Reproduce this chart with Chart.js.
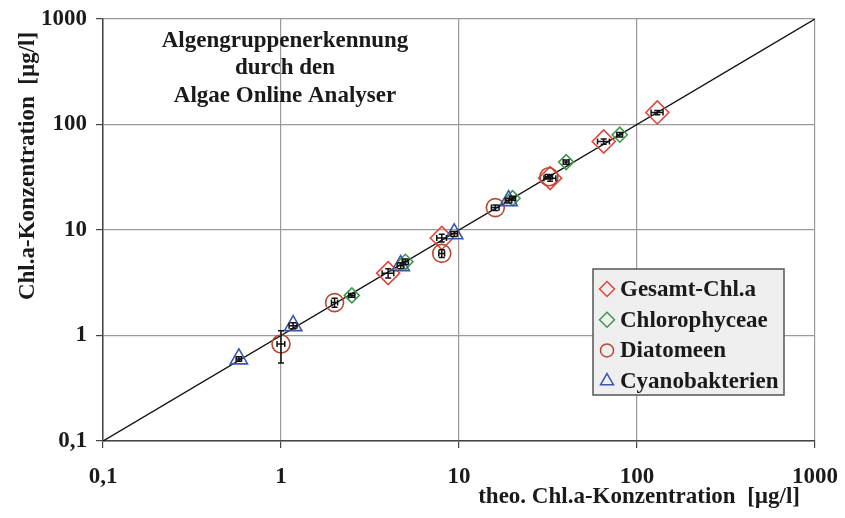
<!DOCTYPE html>
<html>
<head>
<meta charset="utf-8">
<script src="https://cdn.jsdelivr.net/npm/chart.js@4.4.1/dist/chart.umd.min.js"></script>
<style>
  html, body { margin: 0; padding: 0; background: #fff; }
  #wrap { width: 845px; height: 518px; }
</style>
</head>
<body>
<div id="wrap"><canvas id="algenChart" width="845" height="518"></canvas></div>
<script>
// axis decades and how they are labelled (German decimal comma)
var tickValues = [0.1, 1, 10, 100, 1000];
var tickLabels = ['0,1', '1', '10', '100', '1000'];

// series: theo. concentration (x) vs measured (y), error in x and y
var gesamtX = [4, 8, 32.5, 65, 130];
var gesamtY = [3.9, 8.4, 31, 69, 130];
var gesamtXErr = [0.3, 0.5, 2.5, 5, 10];
var gesamtYErr = [0.4, 0.7, 2, 4, 6];

var chloroX = [2.5, 5, 20, 40, 80];
var chloroY = [2.4, 5, 20, 44, 80];
var chloroXErr = [0.1, 0.2, 0.8, 1.5, 3];
var chloroYErr = [0.1, 0.3, 0.9, 2, 4];

var diatomX = [1, 2, 8, 16, 32];
var diatomY = [0.83, 2.05, 6, 16.3, 32];
var diatomXErr = [0.05, 0.08, 0.3, 0.8, 1.5];
var diatomYErr = [0.28, 0.2, 0.5, 1, 1.5];

var cyanoX = [0.58, 1.17, 4.7, 9.4, 19];
var cyanoY = [0.6, 1.24, 4.6, 9.2, 19];
var cyanoXErr = [0.02, 0.06, 0.2, 0.4, 0.8];
var cyanoYErr = [0.03, 0.08, 0.3, 0.5, 1];

var seriesNames = ['Gesamt-Chl.a', 'Chlorophyceae', 'Diatomeen', 'Cyanobakterien'];
var seriesColors = ['#e0463c', '#3d9a4a', '#b84a33', '#3b57a8'];
var seriesStyles = ['rectRot', 'rectRot', 'circle', 'triangle'];
var seriesRadius = [11.5, 7.5, 9, 10];

var titleLines = ['Algengruppenerkennung', 'durch den', 'Algae Online Analyser'];
var xTitle = 'theo. Chl.a-Konzentration  [\u00b5g/l]';
var yTitle = 'Chl.a-Konzentration  [\u00b5g/l]';

var serifFamily = '"Liberation Serif", "Times New Roman", serif';
var serifBold = 'bold 23px ' + serifFamily;

function toPoints(xs, ys) {
    var pts = [];
    for (var i = 0; i < xs.length; i++) pts.push({ x: xs[i], y: ys[i] });
    return pts;
}

var errs = [
    [gesamtXErr, gesamtYErr],
    [chloroXErr, chloroYErr],
    [diatomXErr, diatomYErr],
    [cyanoXErr, cyanoYErr]
];

var datasets = [];
var xsAll = [gesamtX, chloroX, diatomX, cyanoX];
var ysAll = [gesamtY, chloroY, diatomY, cyanoY];
for (var s = 0; s < 4; s++) {
    datasets.push({
        type: 'scatter',
        label: seriesNames[s],
        data: toPoints(xsAll[s], ysAll[s]),
        pointStyle: seriesStyles[s],
        pointRadius: seriesRadius[s],
        pointHoverRadius: seriesRadius[s],
        pointBorderWidth: 1.6,
        borderColor: seriesColors[s],
        backgroundColor: 'rgba(0,0,0,0)',
        order: 4 - s,
        errIndex: s
    });
}
// 1:1 line
datasets.push({
    type: 'line',
    label: '1:1',
    data: toPoints([tickValues[0], tickValues[4]], [tickValues[0], tickValues[4]]),
    borderColor: '#111',
    borderWidth: 1.4,
    pointRadius: 0,
    fill: false,
    order: 10
});

// black error bars drawn through the scales
var errorBars = {
    id: 'errorBars',
    afterDatasetsDraw: function(chart) {
        var ctx = chart.ctx, xs = chart.scales.x, ys = chart.scales.y;
        ctx.save();
        ctx.strokeStyle = '#111';
        ctx.lineWidth = 1.5;
        chart.data.datasets.forEach(function(ds) {
            if (ds.errIndex === undefined) return;
            var ex = errs[ds.errIndex][0], ey = errs[ds.errIndex][1];
            ds.data.forEach(function(p, i) {
                var px = xs.getPixelForValue(p.x), py = ys.getPixelForValue(p.y);
                var x0 = xs.getPixelForValue(p.x - ex[i]), x1 = xs.getPixelForValue(p.x + ex[i]);
                var y0 = ys.getPixelForValue(p.y - ey[i]), y1 = ys.getPixelForValue(p.y + ey[i]);
                ctx.beginPath();
                ctx.moveTo(x0, py); ctx.lineTo(x1, py);
                ctx.moveTo(x0, py - 3); ctx.lineTo(x0, py + 3);
                ctx.moveTo(x1, py - 3); ctx.lineTo(x1, py + 3);
                ctx.moveTo(px, y0); ctx.lineTo(px, y1);
                ctx.moveTo(px - 3, y0); ctx.lineTo(px + 3, y0);
                ctx.moveTo(px - 3, y1); ctx.lineTo(px + 3, y1);
                ctx.stroke();
            });
        });
        ctx.restore();
    }
};

function legendMarker(ctx, style, x, y, r, color) {
    ctx.beginPath();
    if (style === 'circle') {
        ctx.arc(x, y, r, 0, Math.PI * 2);
    } else if (style === 'triangle') {
        ctx.moveTo(x, y - r);
        ctx.lineTo(x + r * 0.866, y + r * 0.5);
        ctx.lineTo(x - r * 0.866, y + r * 0.5);
        ctx.closePath();
    } else {
        ctx.moveTo(x, y - r); ctx.lineTo(x + r, y); ctx.lineTo(x, y + r); ctx.lineTo(x - r, y);
        ctx.closePath();
    }
    ctx.strokeStyle = color;
    ctx.lineWidth = 1.5;
    ctx.stroke();
}

// heading text, axis titles and the boxed legend
var decorations = {
    id: 'decorations',
    afterDraw: function(chart) {
        var ctx = chart.ctx;
        ctx.save();
        ctx.fillStyle = '#1a1a1a';
        ctx.font = serifBold;
        ctx.textAlign = 'center';
        ctx.textBaseline = 'middle';
        titleLines.forEach(function(t, i) {
            ctx.fillText(t, 285, 41 + i * 27.5);
        });

        ctx.textAlign = 'right';
        ctx.fillText(xTitle, 800, 497);

        ctx.save();
        ctx.translate(28, 166);
        ctx.rotate(-Math.PI / 2);
        ctx.textAlign = 'center';
        ctx.fillText(yTitle, 0, 0);
        ctx.restore();

        // legend box
        var bx = 593, by = 269, bw = 191, bh = 126;
        ctx.fillStyle = '#efeff0';
        ctx.fillRect(bx, by, bw, bh);
        ctx.strokeStyle = '#555';
        ctx.lineWidth = 1.5;
        ctx.strokeRect(bx, by, bw, bh);
        ctx.textAlign = 'left';
        for (var i = 0; i < seriesNames.length; i++) {
            var ly = 289 + i * 30.7;
            legendMarker(ctx, seriesStyles[i], 607, ly, seriesStyles[i] === 'circle' ? 6.5 : 7.5, seriesColors[i]);
            ctx.fillStyle = '#1a1a1a';
            ctx.fillText(seriesNames[i], 620, ly + 1);
        }
        ctx.restore();
    }
};

function decadeTicks(scale) {
    scale.ticks = tickValues.map(function(v) { return { value: v }; });
}

var tickFont = { family: serifFamily, size: 23, weight: 'bold' };

var myChart = new Chart(document.getElementById('algenChart'), {
    data: { datasets: datasets },
    options: {
        responsive: false,
        animation: false,
        devicePixelRatio: 1,
        layout: { padding: { top: 19, right: 30, left: 0, bottom: 0 } },
        plugins: {
            legend: { display: false },
            title: { display: false },
            tooltip: { enabled: false }
        },
        scales: {
            x: {
                type: 'logarithmic',
                min: 0.1,
                max: 1000,
                afterBuildTicks: decadeTicks,
                afterFit: function(scale) {
                    scale.height = 77;
                    scale.paddingLeft = 0;
                    scale.paddingRight = 0;
                },
                border: { color: '#444', width: 1.5 },
                grid: { color: '#9a9a9a', lineWidth: 1.2, tickColor: '#444', tickLength: 7 },
                ticks: {
                    autoSkip: false,
                    maxRotation: 0,
                    padding: 15,
                    color: '#1a1a1a',
                    font: tickFont,
                    callback: function(v) { return tickLabels[tickValues.indexOf(v)]; }
                }
            },
            y: {
                type: 'logarithmic',
                min: 0.1,
                max: 1000,
                afterBuildTicks: decadeTicks,
                afterFit: function(scale) {
                    scale.width = 103;
                    scale.paddingTop = 0;
                    scale.paddingBottom = 0;
                },
                border: { color: '#444', width: 1.5 },
                grid: { color: '#9a9a9a', lineWidth: 1.2, tickColor: '#444', tickLength: 7 },
                ticks: {
                    autoSkip: false,
                    padding: 9,
                    color: '#1a1a1a',
                    font: tickFont,
                    callback: function(v) { return tickLabels[tickValues.indexOf(v)]; }
                }
            }
        }
    },
    plugins: [errorBars, decorations]
});
</script>
</body>
</html>
